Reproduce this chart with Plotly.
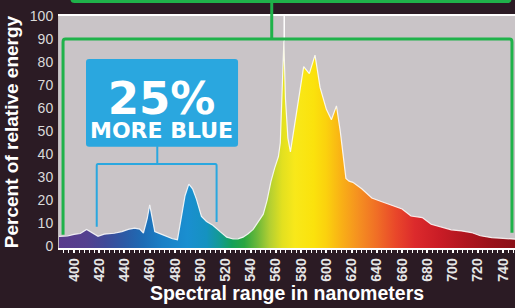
import plotly.graph_objects as go

# ---- data ----
wavelength = [388, 392, 395, 400, 405, 410, 414, 419, 424, 432, 438, 443, 448, 452, 455,
              458, 460, 462, 464, 469, 474, 478, 482, 485, 488, 491, 494, 497, 499, 501,
              505, 510, 516, 521, 526, 530, 534, 538, 542, 545, 550, 553, 556, 559, 562,
              563.5, 564.8, 566.3, 567.6, 569.5, 571.5, 574, 577, 580, 582, 586.5, 591,
              595, 600, 604, 608, 611, 613, 615.5, 618, 621, 628, 636, 644, 652, 660,
              667, 676, 683, 691, 699, 707, 715, 722, 731, 740, 750]
percent = [4.3, 4.4, 4.5, 5.2, 5.6, 7.3, 6.0, 4.4, 5.3, 5.7, 6.4, 7.4, 7.9, 7.5, 5.8,
           12, 18, 12, 6.4, 5.3, 4.0, 3.3, 2.9, 12, 22, 27, 25, 20.5, 17, 13,
           10.8, 9.2, 6.3, 4.0, 3.2, 3.3, 4.0, 5.5, 7.4, 10, 14, 20, 28, 34, 39,
           45, 62, 89, 64, 47, 41, 50, 62, 72, 78, 75, 83,
           69, 59.5, 55, 61, 50, 40, 29.5, 28.3, 27.8, 25, 21, 19.4, 17.8, 16.2,
           13.2, 12.5, 9.6, 8.5, 7.2, 6.7, 6.0, 4.6, 3.8, 3.5, 3.1]

x_ticks = list(range(400, 741, 20))
y_ticks = list(range(0, 101, 10))
X_RANGE = [388.1, 749.5]
Y_RANGE = [-0.7, 100]

# spectrum colour stops (nm, colour)
spec_nm = [388, 410, 425, 440, 455, 470, 490, 505, 515, 525, 535, 545, 555, 565,
           575, 590, 600, 612, 625, 640, 655, 670, 690, 710, 730, 750]
spec_col = ["#5a3b8c", "#54408f", "#3f4a98", "#2c5aa5", "#1d6cb5", "#1a80c6", "#1a8fd0",
            "#1592c0", "#139a95", "#15a05a", "#2aa640", "#6ab83a", "#b2cf32", "#e2e020",
            "#f8e81a", "#fbe20c", "#fbd10e", "#f9b016", "#f59120", "#f06e26", "#e9472a",
            "#dc2a2c", "#c91c26", "#b0161f", "#9a121a", "#8a1018"]

span = spec_nm[-1] - spec_nm[0]
colorscale = [[(n - spec_nm[0]) / span, c] for n, c in zip(spec_nm, spec_col)]

fill_x = wavelength + [wavelength[-1], wavelength[0]]
fill_y = percent + [Y_RANGE[0], Y_RANGE[0]]

fig = go.Figure()
fig.add_trace(go.Scatter(
    x=fill_x, y=fill_y, mode="lines", fill="toself",
    line=dict(width=0),
    fillgradient=dict(type="horizontal", colorscale=colorscale,
                      start=spec_nm[0], stop=spec_nm[-1]),
    hoverinfo="skip", showlegend=False))
fig.add_trace(go.Scatter(
    x=wavelength, y=percent, mode="lines",
    line=dict(color="rgba(255,255,255,0.85)", width=1.2),
    hoverinfo="skip", showlegend=False))

GREEN = "#1fb24a"
BLUE = "#2aa7df"

# white marker line above the spike
fig.add_shape(type="line", xref="x", yref="y", x0=566.6, x1=566.6, y0=89, y1=100,
              line=dict(color="white", width=1.5))

# green bracket
fig.add_shape(type="path", xref="x", yref="y",
              path="M 391.3,5 L 391.3,88.7 Q 391.3,90 393.2,90 L 745.2,90 Q 747.1,90 747.1,88.7 L 747.1,5.9",
              line=dict(color=GREEN, width=3))
fig.add_shape(type="line", xref="x", yref="paper", x0=556.7, x1=556.7, y0=0.9009, y1=1.0625,
              line=dict(color=GREEN, width=3))
fig.add_shape(type="path", xref="x", yref="paper",
              path="M 398.4,1.2 L 398.4,1.072 Q 398.4,1.0625 400.4,1.0625 L 743.5,1.0625 Q 745.5,1.0625 745.5,1.072 L 745.5,1.2",
              line=dict(color=GREEN, width=3))

# blue bracket and box
fig.add_shape(type="path", xref="x", yref="y",
              path="M 418,8.5 L 418,35 Q 418,35.8 419,35.8 L 512,35.8 Q 513,35.8 513,35 L 513,10.6",
              line=dict(color=BLUE, width=2))
fig.add_shape(type="line", xref="x", yref="y", x0=466, x1=466, y0=35.8, y1=43.5,
              line=dict(color=BLUE, width=2))
fig.add_shape(type="path", xref="x", yref="y",
              path=("M 412,43.2 L 527.6,43.2 Q 530,43.2 530,44.5 L 530,80 Q 530,81.3 527.6,81.3 "
                    "L 412,81.3 Q 409.5,81.3 409.5,80 L 409.5,44.5 Q 409.5,43.2 412,43.2 Z"),
              fillcolor=BLUE, line=dict(width=0))

fig.add_annotation(x=469, y=60.5, xref="x", yref="y",
                   text="<b><span style='font-size:45px'>25%</span><br>"
                        "<span style='font-size:22px'>MORE BLUE</span></b>",
                   showarrow=False, align="center",
                   font=dict(family="DejaVu Sans", size=18.5, color="white"))

fig.update_layout(
    width=515, height=308,
    margin=dict(l=59, r=0, t=16, b=60, autoexpand=False),
    paper_bgcolor="#2b1b24",
    plot_bgcolor="#c9c4c7",
    showlegend=False,
    font=dict(family="Liberation Sans, Arial, sans-serif"),
)
fig.update_xaxes(
    automargin=False,
    range=X_RANGE, tickvals=x_ticks, ticktext=[str(v) for v in x_ticks],
    tickangle=-90, tickfont=dict(size=14, color="#e6e6e6", weight="bold"),
    showgrid=False, zeroline=False,
    showline=True, linecolor="white", linewidth=1.5, mirror=True,
    ticks="outside", ticklen=3, tickcolor="white", tickwidth=1.5,
    minor=dict(dtick=4, ticks="outside", ticklen=3, tickcolor="white", tickwidth=1.2),
    title=dict(text="<b>Spectral range in nanometers</b>", font=dict(size=19.5, color="white"),
               standoff=6),
)
fig.update_yaxes(
    automargin=False,
    range=Y_RANGE, tickvals=y_ticks, ticktext=[str(v) for v in y_ticks],
    tickfont=dict(size=14, color="#dadada"),
    showgrid=False, zeroline=False,
    showline=True, linecolor="rgba(255,255,255,0.7)", linewidth=1,
    ticks="", ticklabelstandoff=2,
    title=dict(text="<b>Percent of relative energy</b>", font=dict(size=19, color="white"),
               standoff=6),
)

fig.write_html("out.html", config={"displayModeBar": False},
               post_script="document.body.style.margin='0';document.body.style.background='#2b1b24';")
